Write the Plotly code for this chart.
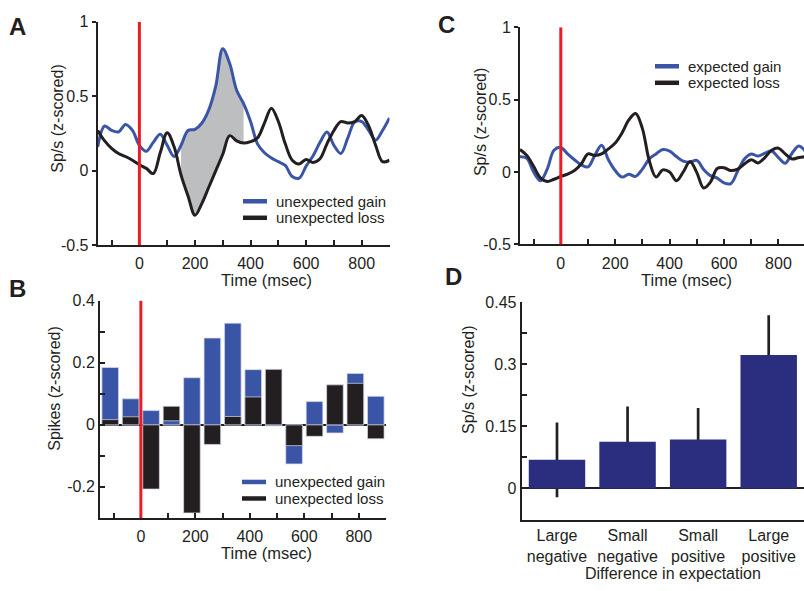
import plotly.graph_objects as go

# ---------------- data ----------------
time_ms = [-150, -125, -100, -75, -50, -25, 0, 25, 50, 75, 100, 125, 150, 175, 200,
           225, 250, 275, 300, 325, 350, 375, 400, 425, 450, 475, 500, 525, 550, 575,
           600, 625, 650, 675, 700, 725, 750, 775, 800, 825, 850, 875, 900]

unexp_gain = [0.16, 0.30, 0.27, 0.26, 0.31, 0.27, 0.17, 0.13, 0.19, 0.245, 0.17, 0.095, 0.17, 0.27, 0.277,
              0.32, 0.41, 0.57, 0.82, 0.72, 0.54, 0.45, 0.33, 0.18, 0.12, 0.085, 0.06, 0.035, -0.04, -0.05,
              0.03, 0.10, 0.19, 0.26, 0.17, 0.115, 0.22, 0.327, 0.33, 0.27, 0.205, 0.27, 0.354]
unexp_loss = [0.27, 0.20, 0.15, 0.115, 0.095, 0.07, 0.04, 0.015, -0.02, 0.12, 0.255, 0.16, -0.03, -0.17, -0.30,
              -0.22, -0.11, 0.0, 0.11, 0.235, 0.20, 0.185, 0.195, 0.22, 0.32, 0.42, 0.33, 0.18, 0.07, 0.045,
              0.075, 0.055, 0.08, 0.18, 0.27, 0.33, 0.32, 0.33, 0.37, 0.30, 0.17, 0.06, 0.07]

exp_gain = [0.105, 0.095, 0.0, -0.06, 0.02, 0.15, 0.17, 0.125, 0.085, 0.05, 0.035, 0.115, 0.185, 0.085, 0.01,
            -0.035, -0.015, -0.03, 0.02, 0.09, 0.125, 0.155, 0.145, 0.107, 0.075, 0.068, 0.08, 0.018, -0.025, -0.042,
            -0.075, -0.08, 0.005, 0.09, 0.125, 0.11, 0.13, 0.145, 0.10, 0.06, 0.13, 0.18, 0.14]
exp_loss = [0.155, 0.115, 0.04, -0.04, -0.065, -0.05, -0.031, -0.015, 0.01, 0.055, 0.125, 0.115, 0.125, 0.16, 0.20,
            0.27, 0.36, 0.405, 0.30, 0.08, -0.035, 0.015, 0.0, -0.06, 0.0, 0.073, -0.004, -0.11, -0.07, 0.025,
            0.03, 0.01, 0.02, 0.055, 0.085, 0.063, 0.10, 0.15, 0.165, 0.125, 0.09, 0.10, 0.106]

shade_start_ms = 150
shade_end_ms = 375

bin_centers = [-112.5, -37.5, 37.5, 112.5, 187.5, 262.5, 337.5, 412.5, 487.5, 562.5, 637.5, 712.5, 787.5, 862.5]
spikes_gain = [0.185, 0.084, 0.046, 0.013, 0.152, 0.280, 0.328, 0.178, -0.004, -0.126, 0.075, -0.026, 0.166, 0.092]
spikes_loss = [0.017, 0.026, -0.207, 0.060, -0.284, -0.063, 0.027, 0.090, 0.179, -0.067, -0.037, 0.129, 0.134, -0.045]

d_categories = ["Large<br>negative", "Small<br>negative", "Small<br>positive", "Large<br>positive"]
d_means = [0.069, 0.113, 0.118, 0.322]
d_errors = [0.090, 0.085, 0.076, 0.096]

time_tickvals = [-100, 0, 100, 200, 300, 400, 500, 600, 700, 800, 900]
time_ticktext = ["", "0", "", "200", "", "400", "", "600", "", "800", ""]

# ---------------- styling ----------------
W, H = 804, 591
FONT = "Liberation Sans, Arial, sans-serif"
INK = "#231F20"
BLUE = "#3A55A6"
RED = "#ED1C24"
NAVY = "#2B2E7F"
GRAY = "#BCBEC0"


def fx(p):
    return p / W


def fy(p):
    return 1 - p / H


fig = go.Figure()

# ---- Panel A ----
win = [i for i, t in enumerate(time_ms) if shade_start_ms <= t <= shade_end_ms]
fig.add_trace(go.Scatter(x=[time_ms[i] for i in win], y=[unexp_loss[i] for i in win],
                         mode="lines", line=dict(width=0, shape="spline"), showlegend=False,
                         xaxis="x", yaxis="y", hoverinfo="skip"))
fig.add_trace(go.Scatter(x=[time_ms[i] for i in win], y=[unexp_gain[i] for i in win],
                         mode="lines", line=dict(width=0, shape="spline"), fill="tonexty",
                         fillcolor=GRAY, showlegend=False, xaxis="x", yaxis="y", hoverinfo="skip"))
fig.add_trace(go.Scatter(x=time_ms, y=unexp_gain, mode="lines", name="unexpected gain",
                         line=dict(color=BLUE, width=3, shape="spline"), showlegend=False,
                         xaxis="x", yaxis="y"))
fig.add_trace(go.Scatter(x=time_ms, y=unexp_loss, mode="lines", name="unexpected loss",
                         line=dict(color=INK, width=3, shape="spline"), showlegend=False,
                         xaxis="x", yaxis="y"))

# ---- Panel B ----
gain_under = [g if not (g * l > 0 and abs(g) < abs(l)) else None for g, l in zip(spikes_gain, spikes_loss)]
gain_over = [g if (g * l > 0 and abs(g) < abs(l)) else None for g, l in zip(spikes_gain, spikes_loss)]
bar_edge = dict(color="rgba(215,218,235,0.9)", width=0.8)
fig.add_trace(go.Bar(x=bin_centers, y=gain_under, width=61, marker=dict(color=BLUE, line=bar_edge),
                     showlegend=False, xaxis="x2", yaxis="y2"))
fig.add_trace(go.Bar(x=bin_centers, y=spikes_loss, width=61, marker=dict(color=INK, line=bar_edge),
                     showlegend=False, xaxis="x2", yaxis="y2"))
fig.add_trace(go.Bar(x=bin_centers, y=gain_over, width=61, marker=dict(color=BLUE, line=bar_edge),
                     showlegend=False, xaxis="x2", yaxis="y2"))

# ---- Panel C ----
fig.add_trace(go.Scatter(x=time_ms, y=exp_gain, mode="lines", name="expected gain",
                         line=dict(color=BLUE, width=3, shape="spline"), showlegend=False,
                         xaxis="x3", yaxis="y3"))
fig.add_trace(go.Scatter(x=time_ms, y=exp_loss, mode="lines", name="expected loss",
                         line=dict(color=INK, width=3, shape="spline"), showlegend=False,
                         xaxis="x3", yaxis="y3"))

# ---- Panel D ----
fig.add_trace(go.Bar(x=d_categories, y=[2 * e for e in d_errors],
                     base=[m - e for m, e in zip(d_means, d_errors)], width=0.038,
                     marker=dict(color=INK, line=dict(width=0)), showlegend=False,
                     xaxis="x4", yaxis="y4"))
fig.add_trace(go.Bar(x=d_categories, y=d_means, width=0.8,
                     marker=dict(color=NAVY, line=dict(width=0)), showlegend=False,
                     xaxis="x4", yaxis="y4"))

# ---------------- axes ----------------
tickfont = dict(family=FONT, size=16, color=INK)
common = dict(showline=True, linecolor=INK, linewidth=2, showgrid=False, zeroline=False,
              tickcolor=INK, tickwidth=1.5, tickfont=tickfont, mirror=False)

time_axis = dict(common, range=[-150, 900], tickmode="array", tickvals=time_tickvals,
                 ticktext=time_ticktext, ticks="inside", ticklen=5, ticklabelstandoff=3)

fig.update_layout(
    xaxis=dict(time_axis, domain=[fx(97.7), fx(389.5)], anchor="y"),
    yaxis=dict(common, domain=[fy(244), fy(14.3)], range=[-0.5, 1], anchor="x",
               tickmode="array", tickvals=[-0.5, 0, 0.5, 1], ticktext=["-0.5", "0", "0.5", "1"],
               ticks="outside", ticklen=4),
    xaxis2=dict(time_axis, domain=[fx(100), fx(386)], anchor="y2"),
    yaxis2=dict(common, domain=[fy(525), fy(301.5)], range=[-0.3, 0.4], anchor="x2",
                tickmode="array", tickvals=[-0.2, -0.1, 0, 0.1, 0.2, 0.3, 0.4],
                ticktext=["-0.2", "", "0", "", "0.2", "", "0.4"],
                ticks="inside", ticklen=5, zeroline=True, zerolinecolor=INK, zerolinewidth=2),
    xaxis3=dict(time_axis, domain=[fx(520), 1.0], range=[-150, 894], anchor="y3"),
    yaxis3=dict(common, domain=[fy(243.3), fy(20)], range=[-0.5, 1], anchor="x3",
                tickmode="array", tickvals=[-0.5, 0, 0.5, 1], ticktext=["-0.5", "0", "0.5", "1"],
                ticks="outside", ticklen=4),
    xaxis4=dict(common, domain=[fx(521.7), 1.0], range=[-0.5, 3.5], anchor="y4",
                type="category", ticks="", ticklabelstandoff=0),
    yaxis4=dict(common, domain=[fy(526.7), fy(302.7)], range=[-0.075, 0.45], anchor="x4",
                tickmode="array", tickvals=[0, 0.075, 0.15, 0.225, 0.3, 0.375, 0.45],
                ticktext=["0", "", "0.15", "", "0.3", "", "0.45"],
                ticks="inside", ticklen=5, zeroline=True, zerolinecolor=INK, zerolinewidth=2),
    barmode="overlay",
    width=W, height=H,
    margin=dict(l=0, r=0, t=0, b=0),
    paper_bgcolor="white", plot_bgcolor="white",
    font=dict(family=FONT, size=16, color=INK),
    showlegend=False,
)

# ---------------- reference lines ----------------
for xr, yr in [("x", "y"), ("x2", "y2"), ("x3", "y3")]:
    fig.add_shape(type="line", xref=xr, yref=yr + " domain", x0=0, x1=0, y0=0, y1=1,
                  line=dict(color=RED, width=3), layer="above")

# ---------------- annotations ----------------
def text(x, y, s, size=16, anchor="center", angle=0, bold=False):
    fig.add_annotation(x=fx(x), y=fy(y), xref="paper", yref="paper", text=f"<b>{s}</b>" if bold else s,
                       showarrow=False, xanchor=anchor, yanchor="middle", textangle=angle,
                       borderpad=0, font=dict(family=FONT, size=size, color=INK))


# panel letters
text(17, 19, "A", size=24, bold=True)
text(17, 289, "B", size=24, bold=True)
text(446, 17, "C", size=24, bold=True)
text(453, 276, "D", size=24, bold=True)

# axis titles
text(266.7, 280.5, "Time (msec)", size=16.5)
text(266.7, 561, "Time (msec)", size=16.5)
text(686.7, 280.5, "Time (msec)", size=16.5)
text(673, 582, "Difference in expectation")
text(57.5, 113.5, "Sp/s (z-scored)", angle=-90)
text(54.5, 392.5, "Spikes (z-scored)", angle=-90)
text(480, 117.5, "Sp/s (z-scored)", angle=-90)
text(468.5, 383.5, "Sp/s (z-scored)", angle=-90)

# legends (line samples + labels)
legends = [
    (243, 199, 17, ["unexpected gain", "unexpected loss"]),
    (242, 488, 17, ["unexpected gain", "unexpected loss"]),
    (655, 60, 17, ["expected gain", "expected loss"]),
]
for x0, y0, dy, labels in legends:
    for k, (lab, col) in enumerate(zip(labels, [BLUE, INK])):
        yy = y0 + k * dy
        fig.add_shape(type="line", xref="paper", yref="paper", x0=fx(x0), x1=fx(x0 + 24),
                      y0=fy(yy), y1=fy(yy), line=dict(color=col, width=4.5))
        text(x0 + 32, yy, lab, size=15, anchor="left")

fig.write_html("out.html")
